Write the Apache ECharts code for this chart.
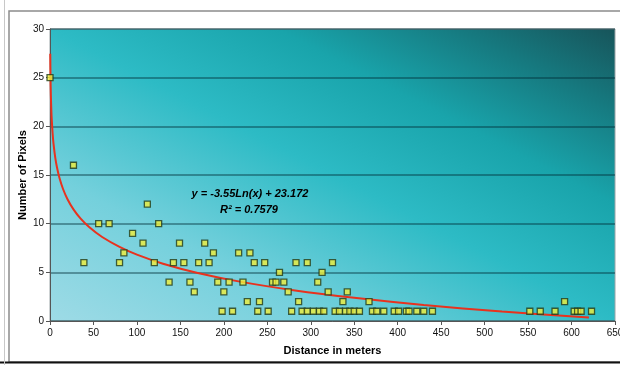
<!DOCTYPE html>
<html>
<head>
<meta charset="utf-8">
<script src="https://cdn.jsdelivr.net/npm/echarts@6/dist/echarts.min.js"></script>
<style>
  html, body { margin: 0; padding: 0; background: #fff; }
  #chart { width: 620px; height: 365px; }
</style>
</head>
<body>
<div id="chart"></div>
<script>
// measured points: distance (m) and number of pixels
const distances = [0, 27, 39, 56, 68, 80, 85, 95, 107, 112, 120, 125, 137, 142, 149, 154, 161, 166,
  171, 178, 183, 188, 193, 198, 200, 206, 210, 217, 222, 227, 230, 235, 239, 241, 247, 251, 256, 260,
  264, 269, 274, 278, 283, 286, 290, 296, 296, 303, 308, 310, 313, 315, 320, 325, 328, 333, 337, 340,
  342, 345, 350, 356, 367, 371, 376, 384, 396, 401, 410, 413, 422, 430, 440, 552, 564, 581, 592, 603,
  607, 611, 623];
const pixels = [25, 16, 6, 10, 10, 6, 7, 9, 8, 12, 6, 10, 4, 6, 8, 6, 4, 3,
  6, 8, 6, 7, 4, 1, 3, 4, 1, 7, 4, 2, 7, 6, 1, 2, 6, 1, 4, 4,
  5, 4, 3, 1, 6, 2, 1, 6, 1, 1, 4, 1, 5, 1, 3, 6, 1, 1, 2, 1,
  3, 1, 1, 1, 2, 1, 1, 1, 1, 1, 1, 1, 1, 1, 1, 1, 1, 1, 2, 1,
  1, 1, 1];

// logarithmic trendline
const trendX = [0.3, 0.6, 1, 1.5, 2, 3, 4, 6, 8, 11, 15, 20, 27, 35, 45, 60, 80, 100, 130, 170,
  220, 280, 350, 430, 520, 620];
const trendY = [27.45, 24.99, 23.17, 21.73, 20.71, 19.27, 18.25, 16.81, 15.79, 14.66, 13.56, 12.54,
  11.47, 10.55, 9.66, 8.63, 7.62, 6.82, 5.89, 4.94, 4.02, 3.17, 2.38, 1.64, 0.97, 0.35];

const equationText = "y = -3.55Ln(x) + 23.172";
const r2Text = "R\u00B2 = 0.7579";

const font = '"Liberation Sans", Arial, sans-serif';

const chart = echarts.init(document.getElementById("chart"));

const option = {
  animation: false,
  textStyle: { fontFamily: font },
  grid: {
    left: 50,
    right: 5,
    top: 29,
    bottom: 44,
    outerBoundsMode: "none",
    containLabel: false,
    show: true,
    borderColor: "#9aa4a6",
    borderWidth: 1,
    // diagonal wash: light at bottom-left, dark teal at top-right
    backgroundColor: {
      type: "linear",
      global: true,
      x: 50, y: 321, x2: 288, y2: -140,
      colorStops: [
        { offset: 0, color: "#9edbe6" },
        { offset: 0.25, color: "#74d0dc" },
        { offset: 0.5, color: "#2dbbc5" },
        { offset: 0.7, color: "#19a4ab" },
        { offset: 0.86, color: "#167a80" },
        { offset: 1, color: "#17545a" },
      ],
    },
  },
  xAxis: {
    type: "value",
    min: 0,
    max: 650,
    interval: 50,
    name: "Distance in meters",
    nameLocation: "middle",
    nameGap: 24,
    nameMoveOverlap: false,
    nameTextStyle: { fontWeight: "bold", fontSize: 11, color: "#000", fontFamily: font },
    axisLine: { show: true, lineStyle: { color: "#555", width: 1 } },
    axisTick: { show: true, length: 4, lineStyle: { color: "#555" } },
    axisLabel: { fontSize: 10, color: "#111", margin: 7, fontFamily: font },
    splitLine: { show: false },
  },
  yAxis: {
    type: "value",
    min: 0,
    max: 30,
    interval: 5,
    name: "Number of Pixels",
    nameLocation: "middle",
    nameGap: 22,
    nameRotate: 90,
    nameMoveOverlap: false,
    nameTextStyle: { fontWeight: "bold", fontSize: 11, color: "#000", fontFamily: font },
    axisLine: { show: true, lineStyle: { color: "#555", width: 1 } },
    axisTick: { show: true, length: 4, lineStyle: { color: "#555" } },
    axisLabel: { fontSize: 10, color: "#111", margin: 6, fontFamily: font },
    splitLine: { show: true, lineStyle: { color: "rgba(0,45,55,0.55)", width: 1.5 } },
  },
  series: [
    {
      name: "trend",
      type: "line",
      data: trendX.map((x, i) => [x, trendY[i]]),
      smooth: 0.3,
      showSymbol: false,
      lineStyle: { color: "#e8321e", width: 2 },
      z: 2,
    },
    {
      name: "pixels",
      type: "scatter",
      data: distances.map((d, i) => [d, pixels[i]]),
      symbol: "rect",
      symbolSize: 6,
      itemStyle: { color: "#f1ee3a", borderColor: "#1f3a1c", borderWidth: 1.3 },
      z: 3,
    },
  ],
  graphic: [
    {
      type: "rect",
      shape: { x: 9, y: 11, width: 640, height: 351 },
      style: { fill: "none", stroke: "#8c8c8c", lineWidth: 1.5 },
      silent: true,
    },
    {
      type: "line",
      shape: { x1: 0, y1: 362.5, x2: 620, y2: 362.5 },
      style: { stroke: "#111", lineWidth: 2 },
      silent: true,
    },
    {
      type: "line",
      shape: { x1: 4.5, y1: 0, x2: 4.5, y2: 365 },
      style: { stroke: "#c8c8c8", lineWidth: 1 },
      silent: true,
    },
    {
      type: "text",
      x: 250,
      y: 194,
      z: 10,
      style: {
        text: equationText,
        textAlign: "center",
        textVerticalAlign: "middle",
        fontSize: 11,
        fontWeight: "bold",
        fontStyle: "italic",
        fontFamily: font,
        fill: "#000",
      },
    },
    {
      type: "text",
      x: 249,
      y: 210,
      z: 10,
      style: {
        text: r2Text,
        textAlign: "center",
        textVerticalAlign: "middle",
        fontSize: 11,
        fontWeight: "bold",
        fontStyle: "italic",
        fontFamily: font,
        fill: "#000",
      },
    },
  ],
};

chart.setOption(option);
</script>
</body>
</html>
